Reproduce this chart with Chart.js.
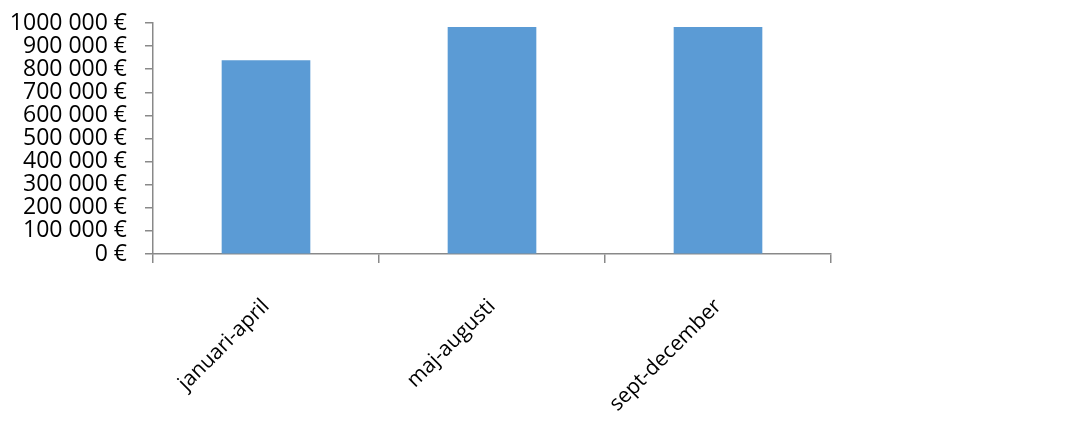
<!DOCTYPE html>
<html>
<head>
<meta charset="utf-8">
<script src="https://cdn.jsdelivr.net/npm/chart.js@4"></script>
<style>
  html, body { margin: 0; padding: 0; background: #fff; }
  #wrap { width: 1067px; height: 432px; }
</style>
</head>
<body>
<div id="wrap"><canvas id="periodChart" width="1067" height="432"></canvas></div>
<script>
// Intäkter per period
const categories = ['januari-april', 'maj-augusti', 'sept-december'];
const revenue = [837000, 981000, 981000];
const yTickLabels = ['0 €', '100 000 €', '200 000 €', '300 000 €', '400 000 €',
    '500 000 €', '600 000 €', '700 000 €', '800 000 €', '900 000 €', '1000 000 €'];

const fontFamily = '"Open Sans", sans-serif';
const axisGrey = '#898989';

new Chart(document.getElementById('periodChart'), {
    type: 'bar',
    data: {
        labels: categories,
        datasets: [{
            data: revenue,
            backgroundColor: '#5B9BD5',
            borderWidth: 0,
            barThickness: 88
        }]
    },
    options: {
        responsive: false,
        animation: false,
        layout: {
            padding: { left: 0, right: 236, top: 23, bottom: 0 }
        },
        plugins: {
            legend: { display: false },
            tooltip: { enabled: false }
        },
        scales: {
            y: {
                min: 0,
                max: 1000000,
                afterFit: (scale) => {
                    scale.width = 153;
                    scale.paddingTop = 0;
                    scale.paddingBottom = 0;
                },
                ticks: {
                    stepSize: 100000,
                    autoSkip: false,
                    padding: 18,
                    color: '#000',
                    font: { family: fontFamily, size: 23, lineHeight: 1 },
                    callback: (value, index) => yTickLabels[index]
                },
                grid: {
                    drawOnChartArea: false,
                    tickLength: 8,
                    color: axisGrey,
                    lineWidth: 1.5
                },
                border: { color: axisGrey, width: 1.5 }
            },
            x: {
                afterFit: (scale) => { scale.height = 178; },
                ticks: {
                    minRotation: 45,
                    maxRotation: 45,
                    autoSkip: false,
                    padding: 31,
                    color: '#000',
                    font: { family: fontFamily, size: 21 }
                },
                grid: {
                    drawOnChartArea: false,
                    offset: true,
                    tickLength: 9,
                    color: axisGrey,
                    lineWidth: 1.5
                },
                border: { color: axisGrey, width: 1.5 }
            }
        }
    }
});
</script>
</body>
</html>
